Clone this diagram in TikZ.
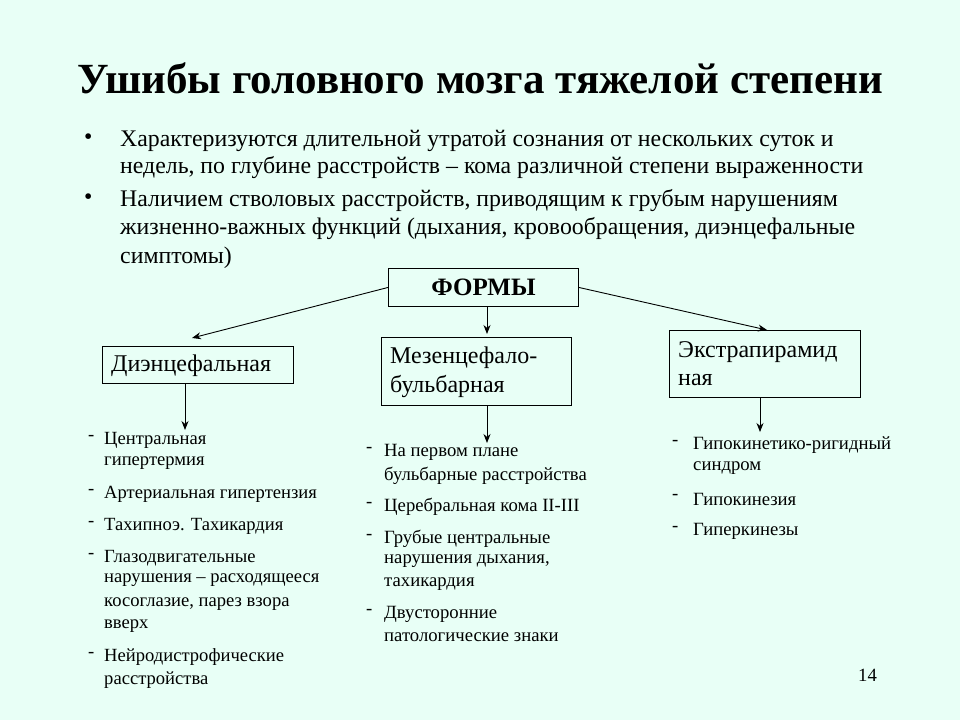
\documentclass[tikz,border=0pt]{standalone}
\usepackage{fontspec}
\setmainfont{Liberation Serif}
\usetikzlibrary{arrows.meta}
\definecolor{bg}{RGB}{232,255,246}
\begin{document}
\begin{tikzpicture}[x=1pt,y=-1pt,
  box/.style={draw,fill=bg,line width=0.9pt,inner sep=0pt,anchor=north west},
  arr/.style={-{Stealth[length=9pt,width=7pt]},line width=0.9pt},
  bt/.style={anchor=west,inner sep=0pt,font=\fontsize{23.8}{26}\selectfont},
  bx/.style={anchor=west,inner sep=0pt,font=\fontsize{24}{26}\selectfont},
  l1/.style={anchor=west,inner sep=0pt,font=\fontsize{18.6}{20}\selectfont},
  l2/.style={anchor=west,inner sep=0pt,font=\fontsize{18.7}{20}\selectfont}]
\fill[bg] (0,0) rectangle (960,720);
\useasboundingbox (0,0) rectangle (960,720);
\node[inner sep=0pt,font=\bfseries\fontsize{43}{48}\selectfont] (title) at (480,78) {Ушибы головного мозга тяжелой степени};
\node[bt] (b1) at (84,139) {•};
\node[bt] (b2) at (84,199) {•};
\node[bt] (t1) at (120,141) {Характеризуются длительной утратой сознания от нескольких суток и};
\node[bt] (t2) at (120,168) {недель, по глубине расстройств – кома различной степени выраженности};
\node[bt] (t3) at (120,201) {Наличием стволовых расстройств, приводящим к грубым нарушениям};
\node[bt] (t4) at (120,229) {жизненно-важных функций (дыхания, кровообращения, диэнцефальные};
\node[bt] (t5) at (120,258) {симптомы)};
\node[box,minimum width=190pt,minimum height=38pt] (f) at (388,268) {};
\node[font=\bfseries\fontsize{25}{28}\selectfont] (ft) at (f.center) {ФОРМЫ};
\node[box,minimum width=191pt,minimum height=37pt] (a) at (102,346) {};
\node[bx] (at) at (111,366) {Диэнцефальная};
\node[box,minimum width=190pt,minimum height=68pt] (m) at (381,337) {};
\node[bx] (mt1) at (390,358) {Мезенцефало-};
\node[bx] (mt2) at (390,386) {бульбарная};
\node[box,minimum width=191pt,minimum height=67pt] (e) at (669,330) {};
\node[bx] (et1) at (678,352) {Экстрапирамид};
\node[bx] (et2) at (678,380) {ная};
\coordinate (mtop) at (487,334);
\draw[arr] (f.west) -- (192,338);
\draw[arr] (f.south -| mtop) -- (mtop);
\draw[arr] (f.east) -- (767,330);
\coordinate (ae) at (185,430);
\coordinate (me) at (487,443);
\coordinate (ee) at (760,432);
\draw[arr] (a.south -| ae) -- (ae);
\draw[arr] (m.south -| me) -- (me);
\draw[arr] (e.south -| ee) -- (ee);
% column 1
\foreach \y in {438,492,524,556,655} \node[l1] at (88,\y) {-};
\node[l1] (c1) at (104,440) {Центральная};
\node[l1] (c2) at (104,463) {гипертермия};
\node[l1] (c3) at (104,494) {Артериальная гипертензия};
\node[l1] (c4) at (104,526) {Тахипноэ. Тахикардия};
\node[l1] (c5) at (104,558) {Глазодвигательные};
\node[l1] (c6) at (104,580) {нарушения – расходящееся};
\node[l1] (c7) at (104,604) {косоглазие, парез взора};
\node[l1] (c8) at (104,626) {вверх};
\node[l1] (c9) at (104,657) {Нейродистрофические};
\node[l1] (c10) at (104,680) {расстройства};
% column 2
\foreach \y in {450,505,537,612} \node[l2] at (366,\y) {-};
\node[l2] (d1) at (384,452) {На первом плане};
\node[l2] (d2) at (384,476) {бульбарные расстройства};
\node[l2] (d3) at (384,507) {Церебральная кома II-III};
\node[l2] (d4) at (384,539) {Грубые центральные};
\node[l2] (d5) at (384,561) {нарушения дыхания,};
\node[l2] (d6) at (384,584) {тахикардия};
\node[l2] (d7) at (384,614) {Двусторонние};
\node[l2] (d8) at (384,637) {патологические знаки};
% column 3
\foreach \y in {443,497,529} \node[l2] at (672,\y) {-};
\node[l2] (g1) at (693,445) {Гипокинетико-ригидный};
\node[l2] (g2) at (693,468) {синдром};
\node[l2] (g3) at (693,499) {Гипокинезия};
\node[l2] (g4) at (693,531) {Гиперкинезы};
\node[l2] (pn) at (858,675) {14};
\end{tikzpicture}
\end{document}
